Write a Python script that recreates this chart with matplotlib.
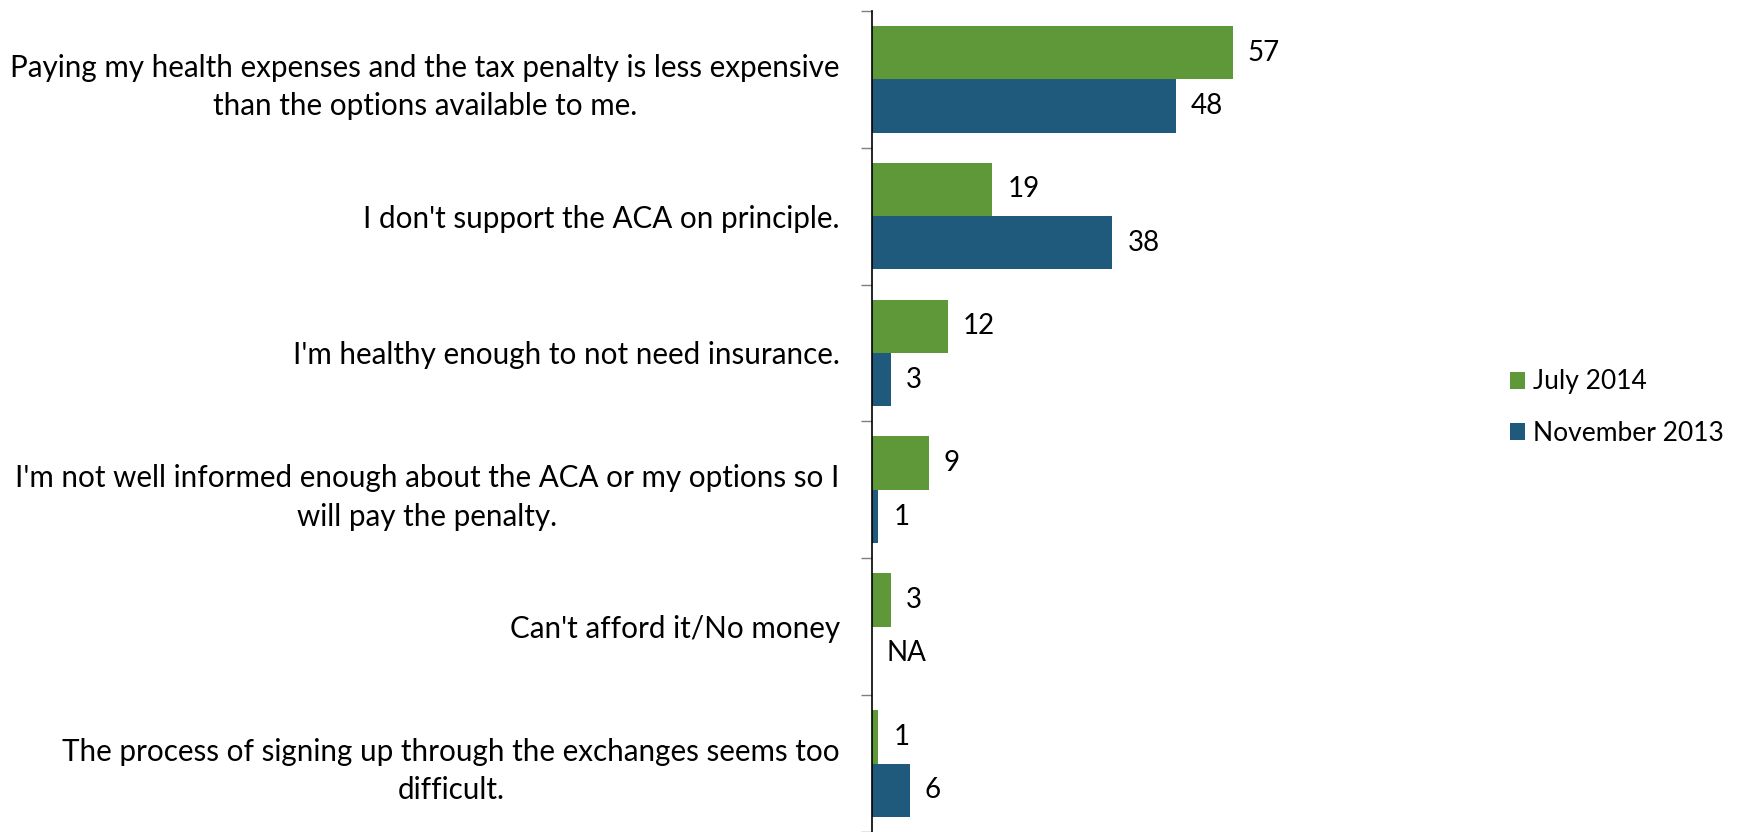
import numpy as np
import matplotlib.pyplot as plt

plt.rcParams['font.family'] = ['Lato', 'DejaVu Sans']

categories = [
    "Paying my health expenses and the tax penalty is less expensive\nthan the options available to me.",
    "I don't support the ACA on principle.",
    "I'm healthy enough to not need insurance.",
    "I'm not well informed enough about the ACA or my options so I\nwill pay the penalty.",
    "Can't afford it/No money",
    "The process of signing up through the exchanges seems too\ndifficult.",
]
july_2014 = [57, 19, 12, 9, 3, 1]
nov_2013 = [48, 38, 3, 1, np.nan, 6]

green = '#5E9838'
blue = '#1F597B'
fs = 21

fig = plt.figure(figsize=(17.39, 8.32), dpi=100)
ax = fig.add_axes([0.5012, 0.0, 0.2185, 0.987])

y = np.arange(len(categories)) + 0.5
h = 0.39
ax.barh(y - h / 2, july_2014, height=h, color=green, label='July 2014')
ax.barh(y + h / 2, np.nan_to_num(nov_2013), height=h, color=blue, label='November 2013')

for yi, v in zip(y - h / 2, july_2014):
    ax.annotate(str(v), (v, yi), xytext=(11, 0), textcoords='offset points',
                va='center', ha='left', fontsize=fs - 1)
for yi, v in zip(y + h / 2, nov_2013):
    txt = 'NA' if np.isnan(v) else str(int(v))
    xv = 0 if np.isnan(v) else v
    ax.annotate(txt, (xv, yi), xytext=(11, 0), textcoords='offset points',
                va='center', ha='left', fontsize=fs - 1)

ax.set_xlim(0, 60)
ax.set_ylim(len(categories), 0)
ax.set_yticks(y)
ax.set_yticklabels(categories, fontsize=fs + 0.3, multialignment='center', linespacing=1.45)
ax.tick_params(axis='y', which='major', length=0, pad=23)
ax.set_yticks(np.arange(len(categories) + 1), minor=True)
ax.tick_params(axis='y', which='minor', length=8, width=1, color='#7F7F7F', direction='out')
ax.xaxis.set_visible(False)
for s in ['top', 'right', 'bottom']:
    ax.spines[s].set_visible(False)
ax.spines['left'].set_linewidth(1.2)

fig.legend(loc='center left', bbox_to_anchor=(0.862, 0.51), frameon=False, fontsize=fs - 2,
           handlelength=0.6, handleheight=0.6, handletextpad=0.3, labelspacing=1.0,
           borderaxespad=0)

fig.savefig('out.png', dpi=100)
